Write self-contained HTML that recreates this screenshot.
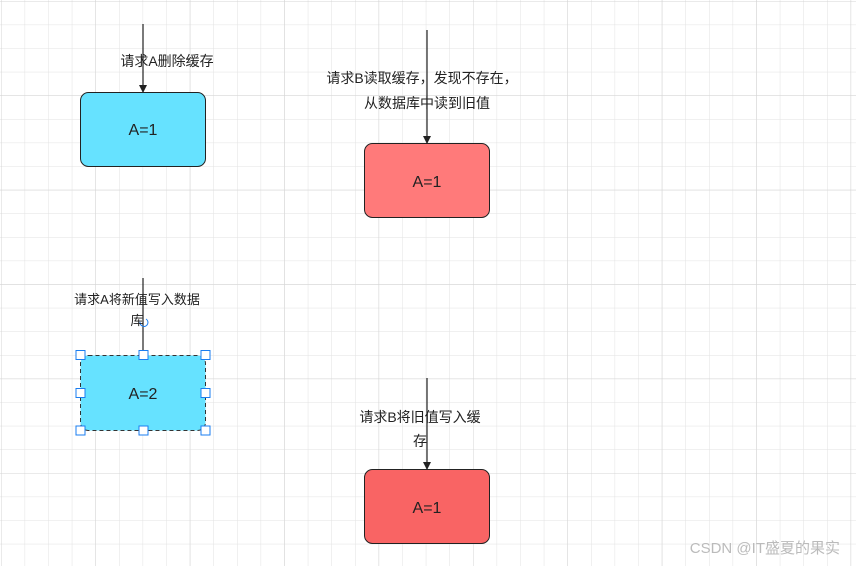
<!DOCTYPE html>
<html><head><meta charset="utf-8"><style>
html,body{margin:0;padding:0;background:#fff;}
svg{display:block;}
text{font-family:"Liberation Sans","Noto Sans CJK SC",sans-serif;fill:#222;}
</style></head><body>
<svg width="856" height="566" viewBox="0 0 856 566" xmlns="http://www.w3.org/2000/svg">
<defs>
<pattern id="g" x="1" y="1" width="23.6" height="23.6" patternUnits="userSpaceOnUse">
<path d="M0 0H23.6M0 0V23.6" stroke="#e2e2e2" stroke-width="1" fill="none"/>
</pattern>
<pattern id="G" x="1" y="1" width="94.4" height="94.4" patternUnits="userSpaceOnUse">
<path d="M0 0H94.4M0 0V94.4" stroke="#d4d4d4" stroke-width="1" fill="none"/>
</pattern>
<marker id="a" markerWidth="8" markerHeight="8" refX="4" refY="7" orient="auto" markerUnits="userSpaceOnUse">
<path d="M0 0L8 0L4 8Z" fill="#222" transform="rotate(-90 4 4)"/>
</marker>
</defs>
<rect width="856" height="566" fill="url(#g)"/>
<rect width="856" height="566" fill="url(#G)"/>

<!-- lines -->
<line x1="143" y1="24" x2="143" y2="92" stroke="#222" stroke-width="1.2"/>
<path d="M139 85L147 85L143 93Z" fill="#222"/>
<line x1="427" y1="30" x2="427" y2="143" stroke="#222" stroke-width="1.2"/>
<path d="M423 136L431 136L427 144Z" fill="#222"/>
<line x1="143" y1="278" x2="143" y2="355" stroke="#222" stroke-width="1.2"/>
<line x1="427" y1="378" x2="427" y2="469" stroke="#222" stroke-width="1.2"/>
<path d="M423 462L431 462L427 470Z" fill="#222"/>

<!-- boxes -->
<rect x="80.5" y="92.5" width="125" height="74" rx="8" fill="#66e2ff" stroke="#222"/>
<text x="143" y="135" font-size="16" text-anchor="middle">A=1</text>
<rect x="364.5" y="143.5" width="125" height="74" rx="8" fill="#ff7a7a" stroke="#222"/>
<text x="427" y="187" font-size="16" text-anchor="middle">A=1</text>
<rect x="80.5" y="355.5" width="125" height="75" rx="8" fill="#66e2ff" stroke="#333" stroke-dasharray="4 3"/>
<text x="143" y="399" font-size="16" text-anchor="middle">A=2</text>
<rect x="364.5" y="469.5" width="125" height="74" rx="8" fill="#f96464" stroke="#222"/>
<text x="427" y="513" font-size="16" text-anchor="middle">A=1</text>

<!-- selection handles -->
<g fill="#fff" stroke="#1a7df0" stroke-width="1">
<rect x="76" y="350.5" width="9" height="9"/><rect x="139" y="350.5" width="9" height="9"/><rect x="201" y="350.5" width="9" height="9"/>
<rect x="76" y="388.5" width="9" height="9"/><rect x="201" y="388.5" width="9" height="9"/>
<rect x="76" y="426" width="9" height="9"/><rect x="139" y="426" width="9" height="9"/><rect x="201" y="426" width="9" height="9"/>
</g>
<path d="M140 322a4 4 0 1 0 6 -3" fill="none" stroke="#1a7df0" stroke-width="1"/>

<!-- labels -->
<text x="167" y="66" font-size="14" text-anchor="middle">请求A删除缓存</text>
<text x="422" y="83" font-size="14" text-anchor="middle">请求B读取缓存，发现不存在，</text>
<text x="427" y="108" font-size="14" text-anchor="middle">从数据库中读到旧值</text>
<text x="137" y="304" font-size="13" text-anchor="middle">请求A将新值写入数据</text>
<text x="137" y="325" font-size="13" text-anchor="middle">库</text>
<text x="420" y="422" font-size="14" text-anchor="middle">请求B将旧值写入缓</text>
<text x="420" y="446" font-size="14" text-anchor="middle">存</text>

<text x="840" y="553" font-size="15" text-anchor="end" style="fill:#bbb">CSDN @IT盛夏的果实</text>
</svg>
</body></html>
